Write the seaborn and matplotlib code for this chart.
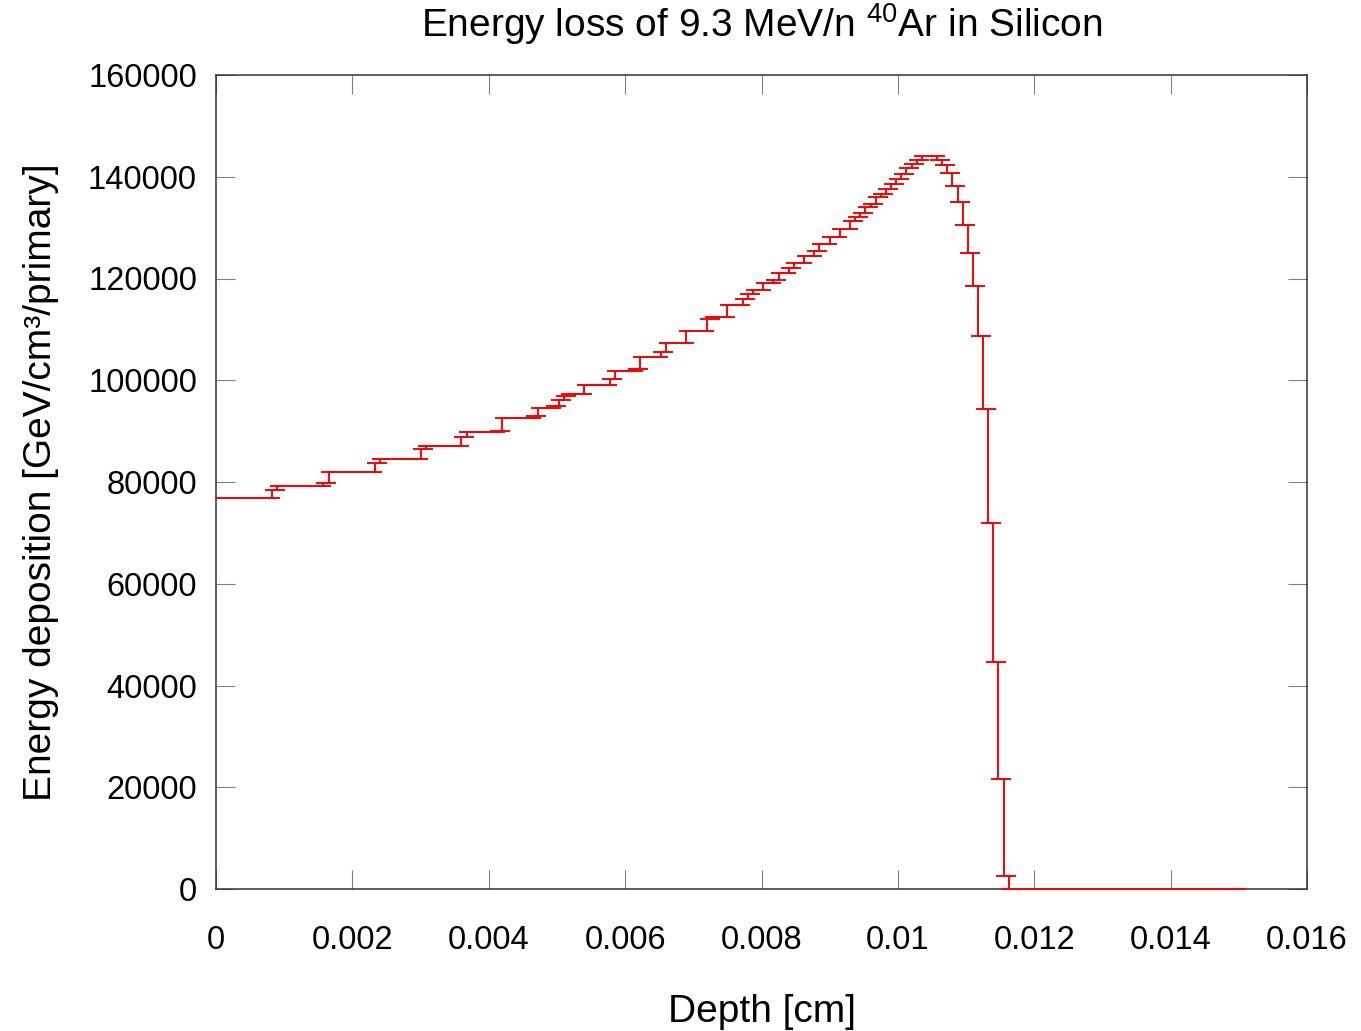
import numpy as np
import pandas as pd
import matplotlib
matplotlib.use("Agg")
import matplotlib.pyplot as plt
import seaborn as sns

# ---------------- data ----------------
title_text = "Energy loss of 9.3 MeV/n $^{\\mathregular{40}}$Ar in Silicon"
x_label = "Depth [cm]"
y_label = "Energy deposition [GeV/cm\u00b3/primary]"

x_ticks = [0, 0.002, 0.004, 0.006, 0.008, 0.010, 0.012, 0.014, 0.016]
x_tick_labels = ["0", "0.002", "0.004", "0.006", "0.008", "0.01", "0.012", "0.014", "0.016"]
y_ticks = [0, 20000, 40000, 60000, 80000, 100000, 120000, 140000, 160000]
y_tick_labels = ["0", "20000", "40000", "60000", "80000", "100000", "120000", "140000", "160000"]

bin_width = 0.000075  # cm, histogram bin width (200 bins over 0..0.015 cm)

# energy deposition per depth bin [GeV/cm3/primary], read bin by bin
energy_deposition = [
    76800, 76800, 76800, 76800, 76800, 76800, 76800, 76800, 76800, 76800,
    76800, 78400, 79300, 79300, 79300, 79300, 79300, 79300, 79300, 79300,
    79300, 79900, 81900, 81900, 81900, 81900, 81900, 81900, 81900, 81900,
    81900, 83700, 84500, 84500, 84500, 84500, 84500, 84500, 84500, 84500,
    86500, 87100, 87100, 87100, 87100, 87100, 87100, 87100, 88800, 89800,
    89800, 89800, 89800, 89800, 89800, 90100, 92500, 92500, 92500, 92500,
    92500, 92500, 93000, 94600, 94600, 94600, 94900, 96100, 96900, 97200,
    97200, 97200, 99100, 99100, 99100, 99100, 99100, 100200, 101800, 101800,
    101800, 101800, 102300, 104500, 104500, 104500, 104500, 105600, 107300, 107300,
    107300, 107300, 109700, 109700, 109700, 109700, 112000, 112500, 112500, 112500,
    114700, 114700, 114700, 116000, 116900, 117700, 117700, 119200, 119200, 119700,
    121100, 121100, 122000, 123100, 123100, 124500, 124500, 125500, 126700, 126700,
    128100, 128100, 129800, 129800, 131400, 132100, 132900, 134000, 134600, 136000,
    136700, 137500, 138600, 139500, 140600, 141700, 142500, 143300, 144100, 144100,
    144100, 143300, 142300, 140700, 138200, 135000, 130500, 125100, 118500, 108700,
    94300, 71900, 44600, 21600, 2600, 0, 0, 0, 0, 0,
    0, 0, 0, 0, 0, 0, 0, 0, 0, 0,
    0, 0, 0, 0, 0, 0, 0, 0, 0, 0,
    0, 0, 0, 0, 0, 0, 0, 0, 0, 0,
    0, 0, 0, 0, 0, 0, 0, 0, 0, 0,
]

# ---------------- derived tables ----------------
n_bins = len(energy_deposition)
values = np.array(energy_deposition, dtype=float)
centers = (np.arange(n_bins) + 0.5) * bin_width
edges = np.arange(n_bins + 1) * bin_width
steps = pd.DataFrame({"depth": edges, "edep": np.append(values, values[-1])})
points = pd.DataFrame({"depth": centers, "edep": values})

# ---------------- style ----------------
sns.set_theme(style="white")
plt.rcParams["font.family"] = ["Liberation Sans", "DejaVu Sans"]
plt.rcParams["mathtext.fontset"] = "custom"
plt.rcParams["mathtext.rm"] = "Liberation Sans"
plt.rcParams["mathtext.it"] = "Liberation Sans:italic"
plt.rcParams["mathtext.bf"] = "Liberation Sans:bold"

W, H = 1361, 1031
fig = plt.figure(figsize=(W / 100, H / 100), dpi=100)
fig.patch.set_facecolor("white")
ax = fig.add_axes([216 / W, 1 - 889 / H, (1307 - 216) / W, (889 - 75) / H])
ax.set_facecolor("white")

red = "#ff0000"
sns.lineplot(data=steps, x="depth", y="edep", drawstyle="steps-post",
             color=red, linewidth=1.4, estimator=None, sort=False, ax=ax)
for ln in ax.lines:
    ln.set_clip_on(False)
    ln.set_zorder(4)

ax.errorbar(points["depth"], points["edep"], yerr=np.zeros(n_bins), fmt="none",
            ecolor=red, elinewidth=1.2, capsize=7.2, capthick=1.2, zorder=4)

ax.set_xlim(0, 0.016)
ax.set_ylim(0, 160000)
ax.set_xticks(x_ticks)
ax.set_xticklabels(x_tick_labels)
ax.set_yticks(y_ticks)
ax.set_yticklabels(y_tick_labels)

ax.tick_params(axis="both", which="both", direction="in", length=13.7, width=0.8,
               color="#808080", labelcolor="black", labelsize=23.5,
               top=True, right=True, bottom=True, left=True)
ax.tick_params(axis="x", pad=26)
ax.tick_params(axis="y", pad=13.7)

for sp in ax.spines.values():
    sp.set_visible(True)
    sp.set_color("#333333")
    sp.set_linewidth(1.1)

ax.set_title(title_text, fontsize=28, pad=27.4, color="black")
ax.set_xlabel(x_label, fontsize=28, labelpad=27, color="black")
ax.set_ylabel(y_label, fontsize=28, labelpad=21, color="black")
ax.grid(False)

fig.savefig("out.png", dpi=100, facecolor="white")
